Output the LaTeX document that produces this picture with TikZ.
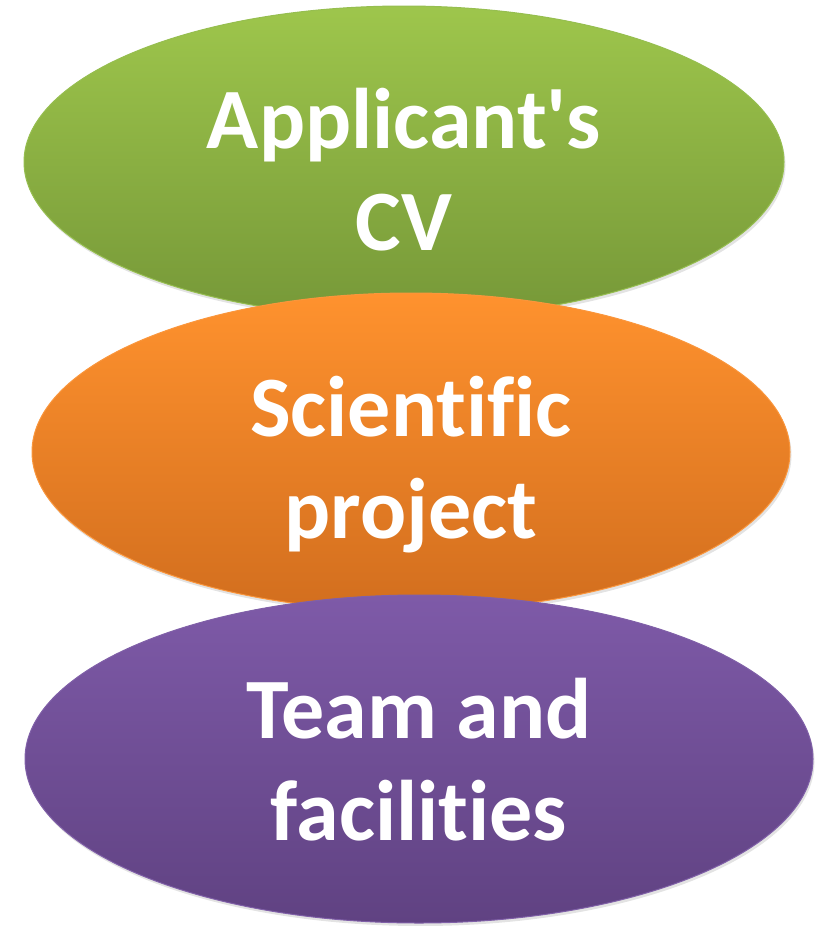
\documentclass[tikz,border=0pt]{standalone}
\usepackage{fontspec}
\defaultfontfeatures{}
\defaultfontfeatures[\rmfamily]{}
\setmainfont{Carlito}[RawFeature={-liga}]
\usetikzlibrary{shapes.geometric,shadows}
\definecolor{gtop}{RGB}{158,198,76}
\definecolor{gbot}{RGB}{118,152,56}
\definecolor{gline}{RGB}{150,190,80}
\definecolor{otop}{RGB}{255,146,46}
\definecolor{obot}{RGB}{210,110,30}
\definecolor{oline}{RGB}{250,150,60}
\definecolor{ptop}{RGB}{126,90,168}
\definecolor{pbot}{RGB}{96,66,130}
\definecolor{pline}{RGB}{128,96,168}
\tikzset{
  blob/.style={ellipse, inner sep=0pt, draw, line width=1pt,
    drop shadow={opacity=0.22, shadow xshift=1.5pt, shadow yshift=-3pt}},
  txt/.style={font=\fontsize{86}{102}\selectfont\bfseries, text=white, align=center, inner sep=0pt}
}
\begin{document}
\begin{tikzpicture}[x=1pt,y=-1pt]
\useasboundingbox (0,0) rectangle (817,926);
\node[blob, draw=gline, top color=gtop, bottom color=gbot, minimum width=760pt, minimum height=312pt] (cv) at (404,162) {};
\node[blob, draw=oline, top color=otop, bottom color=obot, minimum width=758pt, minimum height=318pt] (proj) at (411,452) {};
\node[blob, draw=pline, top color=ptop, bottom color=pbot, minimum width=788pt, minimum height=328pt] (team) at (419,759) {};
\node[txt, anchor=base] (cvt) at ([yshift=-88pt]cv.center) {Applicant\textquotesingle s\\CV};
\node[txt, anchor=base] (projt) at ([yshift=-86pt]proj.center) {Scientific\\project};
\node[txt, anchor=base] (teamt) at ([yshift=-81pt]team.center) {Team and\\facilities};
\end{tikzpicture}
\end{document}
